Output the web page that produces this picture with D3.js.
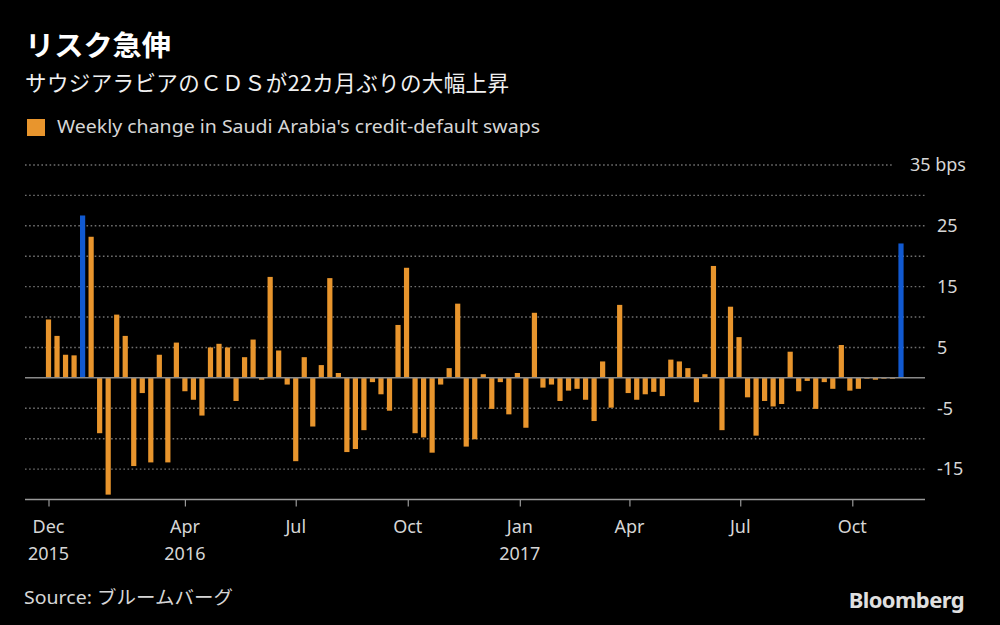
<!DOCTYPE html>
<html>
<head>
<meta charset="utf-8">
<script src="https://cdn.jsdelivr.net/npm/d3@7"></script>
<style>
  html, body { margin: 0; padding: 0; background: #000; }
  svg { display: block; }
  text { font-family: "Noto Sans", "Noto Sans CJK JP", sans-serif; }
  .jp { font-family: "Noto Sans CJK JP", "Noto Sans", sans-serif; }
</style>
</head>
<body>
<svg id="chart" width="1000" height="625"></svg>
<script>
// ---- Data ----
const title = "リスク急伸";
const subtitle = "サウジアラビアのＣＤＳが22カ月ぶりの大幅上昇";
const legendLabel = "Weekly change in Saudi Arabia's credit-default swaps";
const source = "Source: ブルームバーグ";
const firstWeek = "2015-12-11";
const lastWeek = "2017-11-10";
const values = [
  9.6, 6.9, 3.8, 3.7, 26.7, 23.2, -9.1, -19.2, 10.4, 6.9,
  -14.5, -2.5, -13.9, 3.8, -13.9, 5.8, -2.2, -3.6, -6.2, 5.0,
  5.6, 5.0, -3.8, 3.4, 6.3, -0.3, 16.6, 4.5, -1.1, -13.7,
  3.4, -8.0, 2.1, 16.4, 0.8, -12.2, -11.7, -8.6, -0.7, -2.7,
  -5.4, 8.7, 18.1, -9.1, -9.8, -12.3, -1.1, 1.6, 12.2, -11.3,
  -10.1, 0.6, -5.1, -0.7, -6.0, 0.8, -8.2, 10.7, -1.6, -1.1,
  -3.8, -2.1, -1.8, -3.6, -7.1, 2.7, -4.9, 12.0, -2.5, -3.6,
  -2.7, -2.3, -3.0, 3.0, 2.7, 1.6, -4.0, 0.6, 18.4, -8.6,
  11.7, 6.7, -3.2, -9.5, -3.8, -4.7, -4.3, 4.3, -2.2, -0.5,
  -5.1, -0.7, -1.8, 5.4, -2.1, -1.8, -0.1, -0.3, -0.1, -0.1,
  22.1
];
const highlightIdx = [4, 100];
const yGridValues = [-15, -10, -5, 5, 10, 15, 20, 25, 30, 35];
const yLabelValues = [35, 25, 15, 5, -5, -15];
const xTickDates = ["2015-12-11", "2016-04-01", "2016-07-01", "2016-10-01", "2017-01-01", "2017-04-01", "2017-07-01", "2017-10-01"];
const xTickMonth = ["Dec", "Apr", "Jul", "Oct", "Jan", "Apr", "Jul", "Oct"];
const xTickYear = ["2015", "2016", "", "", "2017", "", "", ""];

// ---- Setup ----
const parse = d3.utcParse("%Y-%m-%d");
const weeks = d3.range(values.length).map(i => d3.utcDay.offset(parse(firstWeek), 7 * i));
const data = values.map((v, i) => ({ date: weeks[i], value: v, hi: highlightIdx.includes(i) }));

const svg = d3.select("#chart");
const W = 1000, H = 625;
const plotLeft = 25, plotRight = 925;
const orange = "#e8952d", blue = "#1159d0";

const x = d3.scaleUtc()
  .domain([parse(firstWeek), parse(lastWeek)])
  .range([48.5, 901]);
const y = d3.scaleLinear().domain([-20, 35]).range([499.5, 165]);

svg.append("rect").attr("width", W).attr("height", H).attr("fill", "#000");

// Title
svg.append("text").attr("class", "jp").attr("x", 25).attr("y", 56)
  .attr("fill", "#fff").attr("font-size", 28).attr("font-weight", 700)
  .attr("textLength", 146).attr("lengthAdjust", "spacingAndGlyphs").text(title);
svg.append("text").attr("class", "jp").attr("x", 25).attr("y", 91)
  .attr("fill", "#f0f0f0").attr("font-size", 21.5)
  .attr("textLength", 484).attr("lengthAdjust", "spacing").text(subtitle);

// Legend
svg.append("rect").attr("x", 27).attr("y", 119).attr("width", 18).attr("height", 17).attr("fill", orange);
svg.append("text").attr("x", 57).attr("y", 133).attr("fill", "#d6d6d6")
  .attr("font-size", 18.5)
  .attr("textLength", 483).attr("lengthAdjust", "spacingAndGlyphs").text(legendLabel);

// Gridlines
svg.append("g").selectAll("line").data(yGridValues).join("line")
  .attr("x1", plotLeft)
  .attr("x2", d => d === 35 ? 893 : plotRight)
  .attr("y1", d => y(d)).attr("y2", d => y(d))
  .attr("stroke", "#707070").attr("stroke-width", 1.4)
  .attr("stroke-dasharray", "1.6,2.5");

// Y labels
svg.append("g").selectAll("text").data(yLabelValues).join("text")
  .attr("x", d => d === 35 ? 966 : 937)
  .attr("y", d => y(d))
  .attr("dy", "0.35em")
  .attr("text-anchor", d => d === 35 ? "end" : "start")
  .attr("fill", "#d6d6d6").attr("font-size", 18)
  .text(d => d === 35 ? d + " bps" : d);

// Bars
const bw = 5.2;
svg.append("g").selectAll("rect").data(data).join("rect")
  .attr("x", d => x(d.date) - bw / 2)
  .attr("width", bw)
  .attr("y", d => Math.min(y(d.value), y(0)))
  .attr("height", d => Math.max(0.8, Math.abs(y(d.value) - y(0))))
  .attr("fill", d => d.hi ? blue : orange);

// Zero line
svg.append("line").attr("x1", plotLeft).attr("x2", plotRight)
  .attr("y1", y(0)).attr("y2", y(0))
  .attr("stroke", "#8a8a8a").attr("stroke-width", 1.5);

// X axis
const xAxis = d3.axisBottom(x)
  .tickValues(xTickDates.map(parse))
  .tickSize(7)
  .tickFormat("");
const gx = svg.append("g").attr("transform", `translate(0,${y(-20)})`).call(xAxis);
gx.select(".domain").remove();
gx.selectAll(".tick line").attr("stroke", "#999").attr("stroke-width", 1.2);
gx.insert("line", ":first-child").attr("x1", plotLeft).attr("x2", plotRight)
  .attr("y1", 0).attr("y2", 0).attr("stroke", "#999").attr("stroke-width", 1.5);

const xl = svg.append("g");
xTickDates.forEach((d, i) => {
  const px = x(parse(d));
  xl.append("text").attr("x", px).attr("y", 533).attr("text-anchor", "middle")
    .attr("fill", "#d6d6d6").attr("font-size", 18).text(xTickMonth[i]);
  if (xTickYear[i]) {
    xl.append("text").attr("x", px).attr("y", 560).attr("text-anchor", "middle")
      .attr("fill", "#d6d6d6").attr("font-size", 18).text(xTickYear[i]);
  }
});

// Source & logo
svg.append("text").attr("x", 24).attr("y", 604).attr("fill", "#d6d6d6")
  .attr("font-size", 18.5)
  .attr("textLength", 209).attr("lengthAdjust", "spacingAndGlyphs").text(source);
svg.append("text").attr("x", 964).attr("y", 608).attr("text-anchor", "end")
  .attr("fill", "#e0e0e0").attr("font-size", 22).attr("font-weight", 700)
  .attr("letter-spacing", "-0.6").text("Bloomberg");
</script>
</body>
</html>
